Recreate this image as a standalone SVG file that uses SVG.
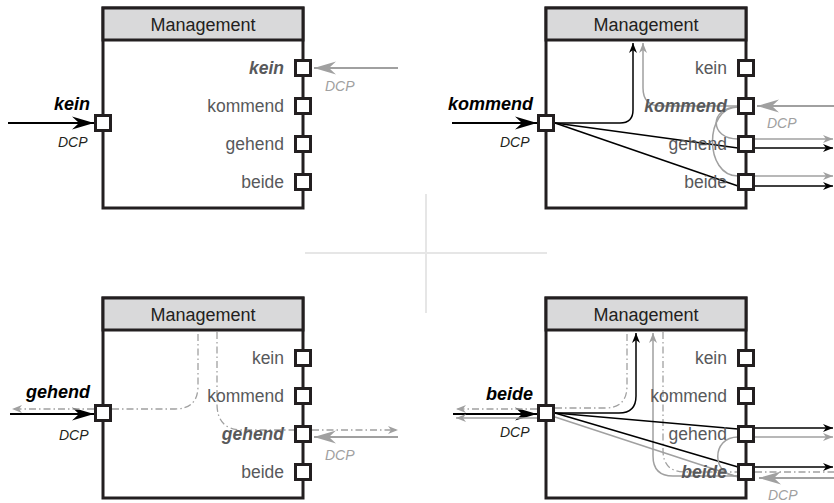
<svg xmlns="http://www.w3.org/2000/svg" width="834" height="503" viewBox="0 0 834 503">
<style>
text{font-family:"Liberation Sans",Arial,Helvetica,sans-serif}
.title{font-size:18px;fill:#231f20;text-anchor:middle}
.lbl{font-size:17.5px;fill:#58595b;text-anchor:end}
.lblB{font-size:17.5px;fill:#58595b;text-anchor:end;font-weight:bold;font-style:italic}
.key{font-size:18px;fill:#000;text-anchor:end;font-weight:bold;font-style:italic}
.dcp{font-size:14px;fill:#231f20;font-style:italic}
.dcpG{font-size:14px;fill:#a0a0a0;font-style:italic}
.box{fill:none;stroke:#231f20;stroke-width:3}
.hdr{fill:#d9d9da;stroke:#231f20;stroke-width:3}
.port{fill:#fff;stroke:#231f20;stroke-width:3}
.in{stroke:#000;stroke-width:2;fill:none}
.inG{stroke:#a0a0a0;stroke-width:2;fill:none}
.b{stroke:#000;stroke-width:1.5;fill:none}
.g{stroke:#a0a0a0;stroke-width:1.5;fill:none}
.dd{stroke:#a0a0a0;stroke-width:1.3;fill:none;stroke-dasharray:7 3 1.5 3}
.div{stroke:#e6e6e6;stroke-width:2}
</style>
<defs>
<marker id="bigB" viewBox="-23 -7 24 14" markerWidth="24" markerHeight="14" refX="0" refY="0" orient="auto" markerUnits="userSpaceOnUse"><path d="M0,0 L-22,-6.5 L-15,0 L-22,6.5 Z" fill="#000"/></marker>
<marker id="bigG" viewBox="-23 -7 24 14" markerWidth="24" markerHeight="14" refX="0" refY="0" orient="auto" markerUnits="userSpaceOnUse"><path d="M0,0 L-22,-6.5 L-15,0 L-22,6.5 Z" fill="#a0a0a0"/></marker>
<marker id="smB" viewBox="-11 -5 12 10" markerWidth="12" markerHeight="10" refX="0" refY="0" orient="auto" markerUnits="userSpaceOnUse"><path d="M0,0 L-10,-4 L-7,0 L-10,4 Z" fill="#000"/></marker>
<marker id="smG" viewBox="-11 -5 12 10" markerWidth="12" markerHeight="10" refX="0" refY="0" orient="auto" markerUnits="userSpaceOnUse"><path d="M0,0 L-10,-4 L-7,0 L-10,4 Z" fill="#a0a0a0"/></marker>
</defs>
<g id="divider">
<line class="div" x1="426" y1="194" x2="426" y2="313"/>
<line class="div" x1="305" y1="253" x2="547" y2="253"/>
</g>
<g id="connectors">
<g id="c-kein">
<line class="in" x1="8" y1="123" x2="94" y2="123" marker-end="url(#bigB)"/>
<line class="inG" x1="398" y1="68" x2="314" y2="68" marker-end="url(#bigG)"/>
<text class="key" x="90" y="110">kein</text>
<text class="dcp" x="58" y="147">DCP</text>
<text class="dcpG" x="325" y="91">DCP</text>
</g>
<g id="c-kommend" transform="translate(443,0)">
<line class="in" x1="9" y1="123" x2="94" y2="123" marker-end="url(#bigB)"/>
<path class="b" d="M112,123 H177 Q190,123 190,110 V43" marker-end="url(#smB)"/>
<path class="g" d="M295,106 H218 Q200,106 200,88 V43" marker-end="url(#smG)"/>
<path class="b" d="M112,123 L295,148"/>
<path class="b" d="M112,123 L295,186"/>
<path class="g" d="M295,107 C266,107 266,139 295,139"/>
<path class="g" d="M295,107 C261,107 261,176 295,176"/>
<line class="g" x1="312" y1="139" x2="390" y2="139" marker-end="url(#smG)"/>
<line class="g" x1="312" y1="176" x2="390" y2="176" marker-end="url(#smG)"/>
<line class="b" x1="312" y1="148" x2="390" y2="148" marker-end="url(#smB)"/>
<line class="b" x1="312" y1="186" x2="390" y2="186" marker-end="url(#smB)"/>
<line class="inG" x1="392" y1="106" x2="314" y2="106" marker-end="url(#bigG)"/>
<text class="key" x="90" y="110">kommend</text>
<text class="dcp" x="57" y="147">DCP</text>
<text class="dcpG" x="324" y="128">DCP</text>
</g>
<g id="c-gehend" transform="translate(0,290)">
<line class="in" x1="10" y1="124" x2="94" y2="124" marker-end="url(#bigB)"/>
<path class="dd" d="M94,119 L12,119" marker-end="url(#smG)"/>
<path class="dd" d="M112,119 H175 Q198,119 198,96 V42"/>
<path class="dd" d="M217,42 V114 Q217,140 243,140 H295"/>
<path class="dd" d="M312,140 L398,140" marker-end="url(#smG)"/>
<line class="inG" x1="398" y1="147" x2="314" y2="147" marker-end="url(#bigG)"/>
<text class="key" x="90" y="108">gehend</text>
<text class="dcp" x="59" y="150">DCP</text>
<text class="dcpG" x="325" y="170">DCP</text>
</g>
<g id="c-beide" transform="translate(443,290)">
<line class="in" x1="10" y1="124" x2="94" y2="124" marker-end="url(#bigB)"/>
<path class="dd" d="M94,119 L13,119" marker-end="url(#smG)"/>
<line class="g" x1="94" y1="128" x2="13" y2="128" marker-end="url(#smG)"/>
<path class="dd" d="M112,118 H162 Q184,118 184,96 V42"/>
<path class="b" d="M112,123 H176 Q193,123 193,106 V43" marker-end="url(#smB)"/>
<path class="g" d="M295,186 H230 Q210,186 210,166 V43" marker-end="url(#smG)"/>
<path class="dd" d="M220,42 V160 Q220,182 242,182 H295"/>
<path class="b" d="M112,123 L295,139"/>
<path class="b" d="M112,123 L295,177"/>
<path class="g" d="M112,127 L295,187"/>
<path class="g" d="M295,147 C268,147 268,186 295,186"/>
<line class="b" x1="312" y1="138" x2="390" y2="138" marker-end="url(#smB)"/>
<line class="g" x1="312" y1="147" x2="390" y2="147" marker-end="url(#smG)"/>
<line class="b" x1="312" y1="177" x2="390" y2="177" marker-end="url(#smB)"/>
<path class="dd" d="M312,182 L391,182"/>
<line class="inG" x1="392" y1="188" x2="316" y2="188" marker-end="url(#bigG)"/>
<text class="key" x="90" y="110">beide</text>
<text class="dcp" x="57" y="147">DCP</text>
<text class="dcpG" x="325" y="210">DCP</text>
</g>
</g>
<g id="node-kein">
<rect class="box" x="103" y="8" width="200" height="200"/>
<rect class="hdr" x="103" y="8" width="200" height="32"/>
<text class="title" x="203" y="31">Management</text>
<text class="lblB" x="284" y="74">kein</text>
<text class="lbl" x="284" y="112">kommend</text>
<text class="lbl" x="284" y="150">gehend</text>
<text class="lbl" x="284" y="188">beide</text>
<rect class="port" x="95.5" y="115.5" width="15" height="15"/>
<rect class="port" x="295.5" y="60.5" width="15" height="15"/>
<rect class="port" x="295.5" y="98.5" width="15" height="15"/>
<rect class="port" x="295.5" y="136.5" width="15" height="15"/>
<rect class="port" x="295.5" y="174.5" width="15" height="15"/>
</g>
<g id="node-kommend" transform="translate(443,0)">
<rect class="box" x="103" y="8" width="200" height="200"/>
<rect class="hdr" x="103" y="8" width="200" height="32"/>
<text class="title" x="203" y="31">Management</text>
<text class="lbl" x="284" y="74">kein</text>
<text class="lblB" x="284" y="112">kommend</text>
<text class="lbl" x="284" y="150">gehend</text>
<text class="lbl" x="284" y="188">beide</text>
<rect class="port" x="95.5" y="115.5" width="15" height="15"/>
<rect class="port" x="295.5" y="60.5" width="15" height="15"/>
<rect class="port" x="295.5" y="98.5" width="15" height="15"/>
<rect class="port" x="295.5" y="136.5" width="15" height="15"/>
<rect class="port" x="295.5" y="174.5" width="15" height="15"/>
</g>
<g id="node-gehend" transform="translate(0,290)">
<rect class="box" x="103" y="8" width="200" height="200"/>
<rect class="hdr" x="103" y="8" width="200" height="32"/>
<text class="title" x="203" y="31">Management</text>
<text class="lbl" x="284" y="74">kein</text>
<text class="lbl" x="284" y="112">kommend</text>
<text class="lblB" x="284" y="150">gehend</text>
<text class="lbl" x="284" y="188">beide</text>
<rect class="port" x="95.5" y="115.5" width="15" height="15"/>
<rect class="port" x="295.5" y="60.5" width="15" height="15"/>
<rect class="port" x="295.5" y="98.5" width="15" height="15"/>
<rect class="port" x="295.5" y="136.5" width="15" height="15"/>
<rect class="port" x="295.5" y="174.5" width="15" height="15"/>
</g>
<g id="node-beide" transform="translate(443,290)">
<rect class="box" x="103" y="8" width="200" height="200"/>
<rect class="hdr" x="103" y="8" width="200" height="32"/>
<text class="title" x="203" y="31">Management</text>
<text class="lbl" x="284" y="74">kein</text>
<text class="lbl" x="284" y="112">kommend</text>
<text class="lbl" x="284" y="150">gehend</text>
<text class="lblB" x="284" y="188">beide</text>
<rect class="port" x="95.5" y="115.5" width="15" height="15"/>
<rect class="port" x="295.5" y="60.5" width="15" height="15"/>
<rect class="port" x="295.5" y="98.5" width="15" height="15"/>
<rect class="port" x="295.5" y="136.5" width="15" height="15"/>
<rect class="port" x="295.5" y="174.5" width="15" height="15"/>
</g>
</svg>
